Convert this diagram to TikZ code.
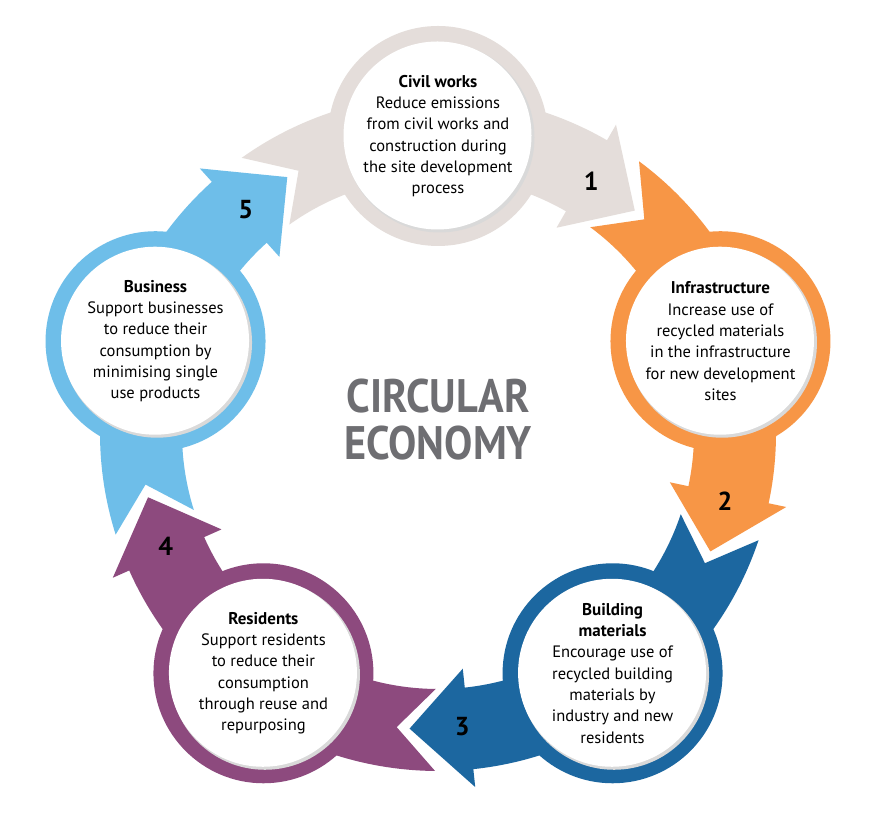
\documentclass[tikz,border=0pt]{standalone}
\usepackage{fontspec}
\setmainfont{PT Sans}
\newfontfamily\titlefont{PT Sans}[FakeStretch=0.9]
\definecolor{civ}{RGB}{228,221,218}
\definecolor{ora}{RGB}{247,150,70}
\definecolor{dblu}{RGB}{28,103,160}
\definecolor{pur}{RGB}{141,74,126}
\definecolor{lblu}{RGB}{110,190,233}
\definecolor{titlegray}{RGB}{110,110,114}
\tikzset{
  ringnode/.style={circle, minimum size=220, inner sep=0},
  bodytext/.style={align=center, text=black, font=\fontsize{16.5}{21.3}\selectfont},
  numtext/.style={font=\bfseries\fontsize{26}{26}\selectfont, text=black},
}
\newcommand\headfont{\bfseries\fontsize{17}{21.3}\selectfont}
\begin{document}
\begin{tikzpicture}[x=1pt,y=1pt]
\useasboundingbox (0,0) rectangle (880,826);
\fill[white] (0,0) rectangle (880,826);
\coordinate (O) at (438,393);
% curved chevron arrows
\foreach \a/\c in {90/civ,18/ora,-54/dblu,-126/pur,162/lblu}{
  \fill[\c,shift={(438,393)}]
    ({\a+35.5}:338) arc[start angle={\a+35.5}, end angle={\a-30}, radius=338]
    -- ({\a-30}:356) -- ({\a-41.5}:297) -- ({\a-30}:237) -- ({\a-30}:256)
    arc[start angle={\a-30}, end angle={\a+35.5}, radius=256]
    -- ({\a+28}:297) -- cycle;
}
% circles
\node[ringnode] (civil) at ([shift={(90:297)}]O) {};
\node[ringnode] (infra) at ([shift={(18:297)}]O) {};
\node[ringnode] (build) at ([shift={(-54:297)}]O) {};
\node[ringnode] (resid) at ([shift={(-126:297)}]O) {};
\node[ringnode] (busi) at ([shift={(162:297)}]O) {};
\foreach \n/\c in {civil/civ,infra/ora,build/dblu,resid/pur,busi/lblu}{
  \fill[\c] (\n.center) circle[radius=110];
  \fill[black!15] ([shift={(1.5,-1.5)}]\n.center) circle[radius=95];
  \fill[white] ([shift={(-0.5,0.5)}]\n.center) circle[radius=94];
}
% texts
\node[bodytext] (civilt) at (civil) {{\headfont Civil works}\\Reduce emissions\\from civil works and\\construction during\\the site development\\process};
\node[bodytext] (infrat) at (infra) {{\headfont Infrastructure}\\Increase use of\\recycled materials\\in the infrastructure\\for new development\\sites};
\node[bodytext] (buildt) at (build) {{\headfont Building}\\{\headfont materials}\\Encourage use of\\recycled building\\materials by\\industry and new\\residents};
\node[bodytext] (residt) at (resid) {{\headfont Residents}\\Support residents\\to reduce their\\consumption\\through reuse and\\repurposing};
\node[bodytext] (busit) at (busi) {{\headfont Business}\\Support businesses\\to reduce their\\consumption by\\minimising single\\use products};
% numbers
\node[numtext] (n1) at ([shift={(58.7:295)}]O) {1};
\node[numtext] (n2) at ([shift={(-13.3:295)}]O) {2};
\node[numtext] (n3) at ([shift={(-85.3:295)}]O) {3};
\node[numtext] (n4) at ([shift={(-157.3:295)}]O) {4};
\node[numtext] (n5) at ([shift={(130.7:295)}]O) {5};
% title
\node[align=center, text=titlegray, font=\titlefont\bfseries\fontsize{47}{47}\selectfont] (title) at (438,406) {CIRCULAR\\ECONOMY};
\end{tikzpicture}
\end{document}
